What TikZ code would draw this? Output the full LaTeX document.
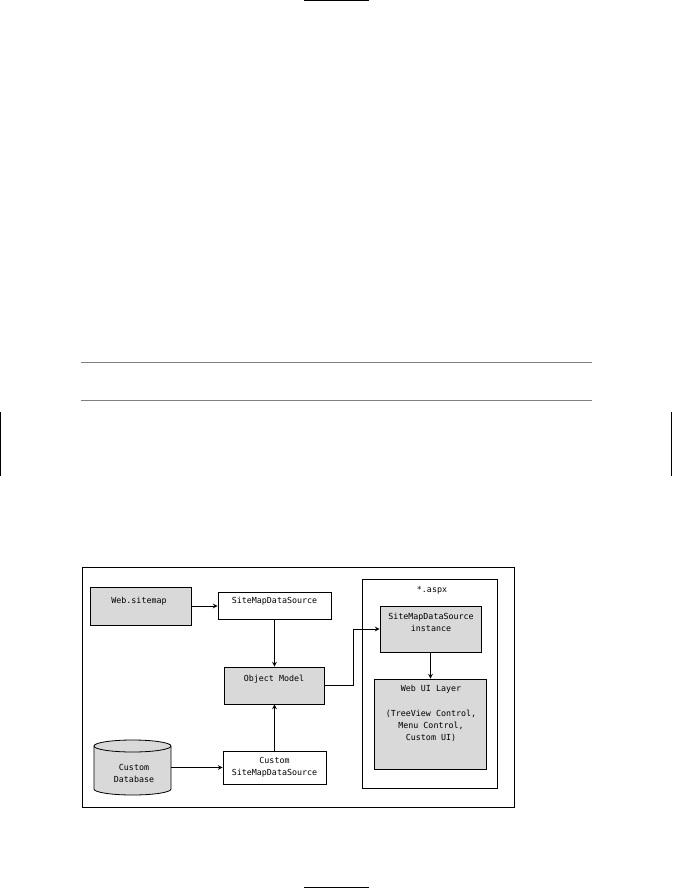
\documentclass[tikz,border=0pt]{standalone}
\usepackage{fontspec}
\newfontfamily\boxfont{DejaVu Sans Mono}
\definecolor{boxgrey}{gray}{0.85}
\definecolor{rulegrey}{gray}{0.5}
\tikzset{
  plainbox/.style={draw, line width=0.6pt, inner sep=0pt},
  greybox/.style={plainbox, fill=boxgrey},
  boxtext/.style={font=\boxfont\fontsize{6.25}{9}\selectfont, align=center, inner sep=0pt},
  link/.style={->, >=stealth, line width=0.6pt}
}
\begin{document}
\begin{tikzpicture}[x=0.75pt,y=-0.75pt]
  \useasboundingbox (0,0) rectangle (672,888);

  % page marks and rules
  \draw[line width=1pt] (304,0.5)--(369,0.5);
  \draw[line width=1pt] (304,887.5)--(369,887.5);
  \draw[line width=1pt] (0.5,412)--(0.5,476);
  \draw[line width=1pt] (671.5,412)--(671.5,476);
  \draw[rulegrey, line width=0.8pt] (81,362.5)--(592,362.5);
  \draw[rulegrey, line width=0.8pt] (81,400.5)--(592,400.5);

  % frames
  \node[plainbox, minimum width=324pt, minimum height=180pt] (frame) at (298,687) {};
  \node[plainbox, minimum width=101.25pt, minimum height=156.75pt] (aspx) at (429.5,683.5) {};

  % boxes
  \node[greybox, minimum width=75.75pt, minimum height=28.5pt] (websitemap) at (140.5,606) {};
  \node[plainbox, minimum width=84.75pt, minimum height=20.25pt] (sitemapsource) at (274.5,606) {};
  \node[greybox, minimum width=75pt, minimum height=27.75pt] (objectmodel) at (274.5,685.5) {};
  \node[plainbox, minimum width=77.25pt, minimum height=24.75pt] (customsource) at (274.5,767.5) {};
  \node[greybox, minimum width=75.75pt, minimum height=34.5pt] (instance) at (430.5,629) {};
  \node[greybox, minimum width=84pt, minimum height=67.5pt] (webui) at (430.5,724) {};

  % database drum
  \node[inner sep=0pt, minimum width=57.75pt, minimum height=41.25pt] (customdb) at (132.5,767.5) {};
  \draw[line width=0.6pt, fill=boxgrey] (94,746)--(94,789)
    arc[start angle=180, end angle=360, x radius=28.875pt, y radius=4.5pt]
    --(171,746)
    arc[start angle=0, end angle=180, x radius=28.875pt, y radius=4.5pt];
  \draw[line width=0.6pt] (94,746)
    arc[start angle=180, end angle=360, x radius=28.875pt, y radius=4.5pt];

  % labels
  \node[boxtext] (aspxtext) at (432,590) {*.aspx};
  \node[boxtext] (websitemaptext) at (139,601) {Web.sitemap};
  \node[boxtext] (sitemapsourcetext) at (274.5,601) {SiteMapDataSource};
  \node[boxtext] (objectmodeltext) at (274,679) {Object Model};
  \node[boxtext] (customsourcetext) at (274.5,767) {Custom\\SiteMapDataSource};
  \node[boxtext] (customdbtext) at (134,773) {Custom\\Database};
  \node[boxtext] (instancetext) at (431,622.5) {SiteMapDataSource\\instance};
  \node[boxtext] (webuitext) at (431,689) {Web UI Layer};
  \node[boxtext] (webuilist) at (431,725.5) {(TreeView Control,\\Menu Control,\\Custom UI)};

  % connectors
  \draw[link] (websitemap.east)--(sitemapsource.west);
  \draw[link] (sitemapsource.south)--(objectmodel.north);
  \draw[link] (customsource.north)--(objectmodel.south);
  \draw[link] (customdb.east)--(customsource.west);
  \draw[link] (objectmodel.east)--++(28,0) |- (instance.west);
  \draw[link] (instance.south)--(webui.north);
\end{tikzpicture}
\end{document}
